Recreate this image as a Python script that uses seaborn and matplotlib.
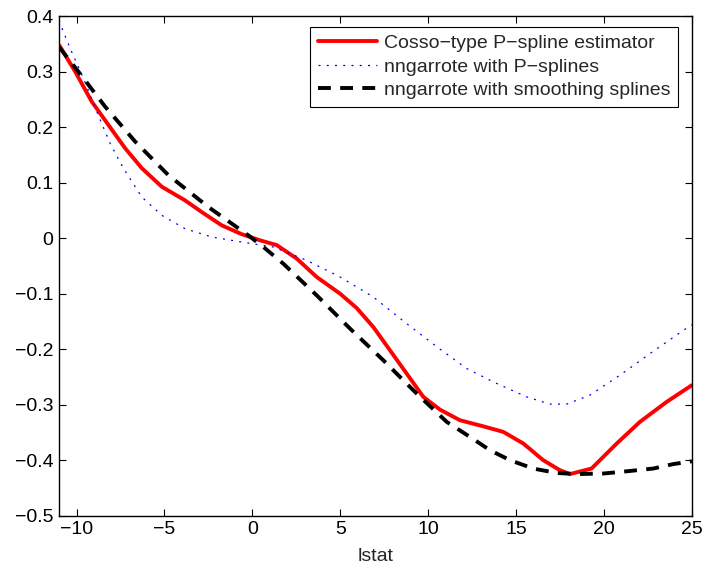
import matplotlib
matplotlib.use("Agg")
import matplotlib.pyplot as plt
import seaborn as sns
import numpy as np

# Data
red_x = [-11.0, -10.94, -10.08, -9.14, -8.19, -7.24, -6.29, -5.15, -3.83, -2.88, -1.74, -0.6, 0.44, 1.39,
         2.53, 3.66, 4.99, 5.94, 6.88, 7.83, 8.78, 9.73, 10.68, 11.81, 13.14, 14.28, 15.42, 16.55, 17.5,
         18.07, 19.3, 20.73, 22.05, 23.57, 25.0]
red_y = [0.348, 0.345, 0.30, 0.246, 0.204, 0.162, 0.126, 0.0925, 0.068, 0.047, 0.023, 0.007, -0.004, -0.0126,
         -0.037, -0.07, -0.10, -0.126, -0.16, -0.202, -0.244, -0.286, -0.309, -0.328, -0.339, -0.349, -0.37,
         -0.40, -0.418, -0.425, -0.415, -0.37, -0.331, -0.295, -0.265]

blue_x = [-11.0, -10.94, -10.37, -9.61, -8.85, -8.1, -7.34, -6.29, -5.15, -3.83, -2.31, -0.8, 1.19, 3.09,
          4.99, 6.88, 8.78, 10.68, 12.2, 13.71, 15.61, 16.93, 17.88, 19.2, 20.91, 22.62, 24.6, 25.0]
blue_y = [0.392, 0.387, 0.342, 0.288, 0.228, 0.171, 0.126, 0.074, 0.041, 0.017, 0.002, -0.006, -0.016, -0.04,
          -0.07, -0.106, -0.154, -0.200, -0.235, -0.259, -0.286, -0.299, -0.299, -0.283, -0.247, -0.208,
          -0.1645, -0.156]

black_x = [-11.0, -10.94, -9.9, -8.38, -6.67, -4.78, -2.5, -0.23, 0.63, 1.76, 3.66, 5.56, 7.45, 9.35,
           11.06, 12.38, 13.52, 14.66, 15.98, 17.31, 18.45, 19.97, 21.3, 22.81, 23.95, 25.0]
black_y = [0.344, 0.342, 0.30, 0.237, 0.174, 0.1135, 0.056, 0.005, -0.016, -0.046, -0.103, -0.163, -0.22, -0.28,
           -0.331, -0.358, -0.382, -0.40, -0.415, -0.423, -0.425, -0.424, -0.42, -0.415, -0.407, -0.402]

labels = ["Cosso\u2212type P\u2212spline estimator", "nngarrote with P\u2212splines",
          "nngarrote with smoothing splines"]
xticks = [-10, -5, 0, 5, 10, 15, 20, 25]
xticklabels = ["\u221210", "\u22125", "0", "5", "10", "15", "20", "25"]
yticks = [-0.5, -0.4, -0.3, -0.2, -0.1, 0.0, 0.1, 0.2, 0.3, 0.4]
yticklabels = ["\u22120.5", "\u22120.4", "\u22120.3", "\u22120.2", "\u22120.1", "0", "0.1", "0.2", "0.3", "0.4"]

sns.set_style("ticks")
plt.rcParams['font.family'] = ['Liberation Sans', 'DejaVu Sans']

fig = plt.figure(figsize=(7.03, 5.64), dpi=100)
ax = fig.add_axes([0.0839, 0.0856, 0.9001, 0.886])

sns.lineplot(x=red_x, y=red_y, ax=ax, color="#ff0000", lw=2.8, label=labels[0], sort=False)
sns.lineplot(x=blue_x, y=blue_y, ax=ax, color="#0000ff", lw=0.9, label=labels[1], sort=False,
             linestyle=(0, (1.6, 5)))
sns.lineplot(x=black_x, y=black_y, ax=ax, color="black", lw=2.8, label=labels[2], sort=False,
             linestyle=(0, (3.3, 2.4)))

ax.set_xlim(-11, 25)
ax.set_ylim(-0.5, 0.4)
ax.set_xticks(xticks)
ax.set_yticks(yticks)
ax.set_xticklabels(xticklabels)
ax.set_yticklabels(yticklabels)
ax.tick_params(direction="in", top=True, right=True, length=5, width=0.8, labelsize=14,
               colors="black", pad=4)
for s in ax.spines.values():
    s.set_visible(True)
    s.set_linewidth(1.0)
    s.set_color("black")
ax.set_xlabel("lstat", fontsize=14, labelpad=7)
ax.set_ylabel("")

leg = ax.legend(loc="upper right", bbox_to_anchor=(0.978, 0.9786), fontsize=14, frameon=True,
                fancybox=False, edgecolor="black", framealpha=1, borderpad=0.4, labelspacing=0.3,
                handlelength=3.0, handletextpad=0.36, borderaxespad=0)
leg.get_frame().set_linewidth(0.8)

fig.savefig("out.png", dpi=100)
